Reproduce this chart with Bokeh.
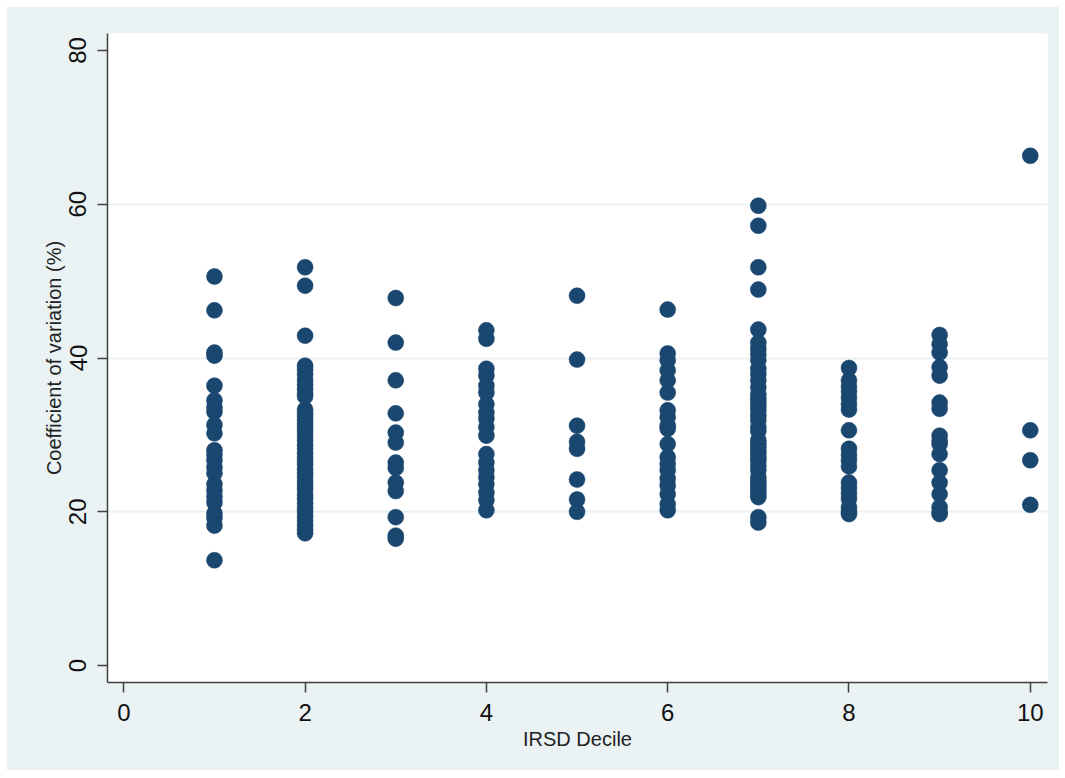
from bokeh.plotting import figure
from bokeh.models import Range1d, FixedTicker, ColumnDataSource
from bokeh.embed import file_html
from bokeh.resources import INLINE

# Coefficient of variation (%) by IRSD decile
d1 = [50.6, 46.2, 40.7, 40.3, 36.4, 34.5, 33.6, 33.0, 31.3, 30.2, 28.0, 27.4, 26.7, 25.8,
      25.0, 23.6, 22.8, 22.0, 21.2, 19.8, 19.2, 18.2, 13.7]
d2 = [51.8, 49.4, 42.9, 39.0, 38.5, 37.9, 37.2, 36.6, 36.0, 35.4, 35.0, 33.3, 32.8, 32.4,
      31.9, 31.4, 30.9, 30.4, 29.8, 29.3, 28.7, 28.2, 27.6, 27.1, 26.6, 26.1, 25.5, 25.0,
      24.5, 23.9, 23.4, 22.9, 22.2, 21.7, 21.1, 20.5, 20.0, 19.4, 18.8, 18.2, 17.7, 17.2]
d3 = [47.8, 42.0, 37.1, 32.8, 30.3, 29.0, 26.4, 25.7, 23.8, 22.7, 19.3, 16.9, 16.5]
d4 = [43.6, 42.5, 38.6, 37.7, 36.4, 35.5, 34.0, 32.9, 32.1, 31.0, 29.9, 27.5, 26.4, 25.4,
      24.5, 23.6, 22.5, 21.5, 20.2]
d5 = [48.1, 39.8, 31.2, 29.1, 28.2, 24.2, 21.6, 20.0]
d6 = [46.3, 40.6, 39.7, 38.4, 37.1, 35.5, 33.2, 32.3, 31.2, 30.8, 28.8, 27.1, 26.2, 25.4,
      24.3, 23.4, 22.3, 21.0, 20.2]
d7 = [59.8, 57.2, 51.8, 48.9, 43.7, 42.0, 41.2, 40.5, 39.7, 38.6, 37.9, 37.1, 36.2, 35.3,
      34.7, 34.2, 33.7, 33.2, 32.5, 31.9, 31.0, 30.5, 29.3, 28.9, 28.4, 27.9, 27.5, 27.0,
      26.7, 26.0, 25.4, 24.5, 24.0, 23.6, 23.2, 22.8, 22.3, 21.9, 19.3, 18.6]
d8 = [38.7, 37.1, 36.3, 35.6, 34.8, 34.0, 33.3, 30.6, 28.2, 27.4, 26.7, 25.9, 23.8, 23.1,
      22.4, 21.7, 20.6, 20.0, 19.7]
d9 = [43.0, 41.8, 40.7, 38.8, 37.7, 34.2, 33.4, 29.9, 29.2, 28.8, 27.5, 25.4, 23.8, 22.3,
      20.6, 19.9, 19.7]
d10 = [66.3, 30.6, 26.7, 20.9]

deciles = [1, 2, 3, 4, 5, 6, 7, 8, 9, 10]
groups = [d1, d2, d3, d4, d5, d6, d7, d8, d9, d10]
x_ticks = [0, 2, 4, 6, 8, 10]
y_ticks = [0, 20, 40, 60, 80]
grid_ticks = [20, 40, 60]

xs, ys = [], []
for d, vals in zip(deciles, groups):
    for v in vals:
        xs.append(d)
        ys.append(v)
src = ColumnDataSource(dict(x=xs, y=ys))

BG = "#EAF2F3"
FONT = "Liberation Sans"

p = figure(width=1053, height=764, output_backend="svg", toolbar_location=None,
           x_range=Range1d(-0.18, 10.19), y_range=Range1d(-2.2, 82.2),
           min_border_left=101, min_border_right=12, min_border_top=27, min_border_bottom=88)
p.margin = (6, 0, 0, 6)
p.border_fill_color = BG
p.background_fill_color = "white"
p.outline_line_color = None

p.scatter("x", "y", source=src, size=16, marker="circle",
          fill_color="#1A476F", line_color="#1A476F", line_width=0.5)

p.xaxis.ticker = FixedTicker(ticks=x_ticks)
p.yaxis.ticker = FixedTicker(ticks=y_ticks)
p.xgrid.visible = False
p.ygrid.ticker = FixedTicker(ticks=grid_ticks)
p.ygrid.grid_line_color = BG
p.ygrid.grid_line_width = 2

for ax in (p.xaxis, p.yaxis):
    ax.axis_line_color = "#404040"
    ax.axis_line_width = 1.5
    ax.major_tick_line_color = "#404040"
    ax.major_tick_line_width = 1.5
    ax.major_tick_out = 10
    ax.major_tick_in = 0
    ax.minor_tick_line_color = None
    ax.major_label_text_font = FONT
    ax.major_label_text_font_size = "24px"
    ax.major_label_text_color = "#111111"
    ax.axis_label_text_font = FONT
    ax.axis_label_text_font_size = "20px"
    ax.axis_label_text_font_style = "normal"
    ax.axis_label_text_color = "#222222"

p.xaxis.axis_label = "IRSD Decile"
p.yaxis.axis_label = "Coefficient of variation (%)"
p.yaxis.major_label_orientation = "vertical"
p.xaxis.major_label_standoff = 11
p.yaxis.major_label_standoff = 11
p.xaxis.axis_label_standoff = 4
p.yaxis.axis_label_standoff = 2

open("out.html", "w").write(file_html(p, INLINE))
